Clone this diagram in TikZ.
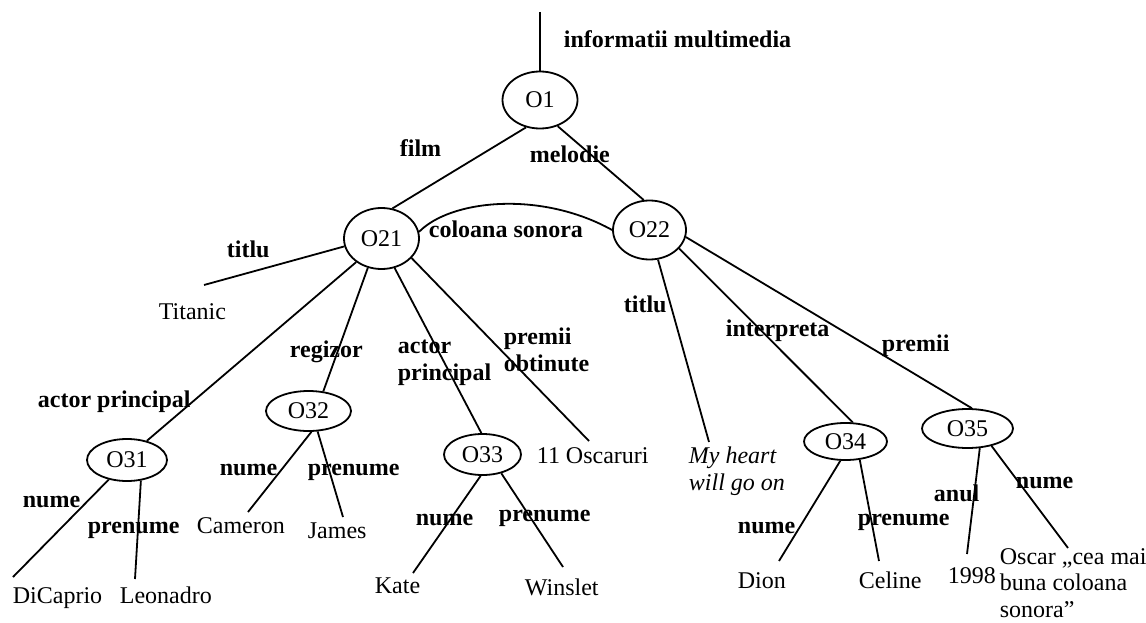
\documentclass[tikz,border=0pt]{standalone}
\usepackage{fontspec}
\setmainfont{Liberation Serif}
\usetikzlibrary{shapes.geometric, positioning}

\begin{document}
\begin{tikzpicture}[x=1pt, y=-1pt, line width=1.8pt,
    obj/.style={draw, ellipse, inner sep=0pt, font=\fontsize{24}{26.5}\selectfont},
    rel/.style={anchor=base west, inner sep=0pt, align=left, font=\fontsize{24}{26.5}\selectfont\bfseries},
    val/.style={anchor=base west, inner sep=0pt, align=left, font=\fontsize{24}{26.5}\selectfont}]
    \useasboundingbox (0,0) rectangle (1146,623);

    \node[obj, minimum width=75pt, minimum height=57pt] (o1) at (540,100) {O1};
    \node[obj, minimum width=75pt, minimum height=61pt] (o21) at (381.5,238.5) {O21};
    \node[obj, minimum width=73pt, minimum height=59pt] (o22) at (649.5,230) {O22};
    \node[obj, minimum width=80pt, minimum height=42pt] (o31) at (127,460) {O31};
    \node[obj, minimum width=85pt, minimum height=40pt] (o32) at (308.5,411) {O32};
    \node[obj, minimum width=77pt, minimum height=41pt] (o33) at (482.5,454.5) {O33};
    \node[obj, minimum width=83pt, minimum height=37pt] (o34) at (845.5,441.5) {O34};
    \node[obj, minimum width=91pt, minimum height=39pt] (o35) at (967.5,428.5) {O35};

    \node[val] (titanic) at (158,319) {Titanic};
    \node[val] (dicaprio) at (12,603) {DiCaprio};
    \node[val] (leonadro) at (119,603) {Leonadro};
    \node[val] (cameron) at (196,533) {Cameron};
    \node[val] (james) at (307,538) {James};
    \node[val] (kate) at (374,593) {Kate};
    \node[val] (winslet) at (524,595) {Winslet};
    \node[val] (oscaruri) at (536,463) {11 Oscaruri};
    \node[val, font=\fontsize{24}{26.5}\selectfont\itshape] (heart) at (688,490) {My heart\\will go on};
    \node[val] (dion) at (737,588) {Dion};
    \node[val] (celine) at (858,588) {Celine};
    \node[val] (anul) at (947,583) {1998};
    \node[val] (oscar) at (999,617) {Oscar „cea mai\\buna coloana\\sonora”};

    \coordinate (top) at (540,12);
    \coordinate (titanic-top) at (204,285);
    \coordinate (dicaprio-top) at (13,577);
    \coordinate (leonadro-top) at (135,579);
    \coordinate (cameron-top) at (248,512);
    \coordinate (james-top) at (343,517);
    \coordinate (kate-top) at (413,573);
    \coordinate (winslet-top) at (563,567);
    \coordinate (oscaruri-top) at (589,441);
    \coordinate (heart-top) at (709,442);
    \coordinate (dion-top) at (779,561);
    \coordinate (celine-top) at (879,561);
    \coordinate (anul-top) at (967,554);
    \coordinate (oscar-top) at (1068,548);

    \draw (top) -- (o1);
    \draw (o1.243) -- (o21.70);
    \draw (o1.304) -- (o22.101);
    \draw (o21.10) .. controls (450,200) and (540,190) .. (o22.180);
    \draw (o21.192) -- (titanic-top);
    \draw (o21.223) -- (o31.44);
    \draw (o21.245) -- (o32.53);
    \draw (o21.294) -- (o33.93);
    \draw (o21.327) -- (oscaruri-top);
    \draw (o22.286) -- (heart-top);
    \draw (o22.328) -- (o34.69);
    \draw (o22.349) -- (o35.78);
    \draw (o31.227) -- (dicaprio-top);
    \draw (o31.304) -- (leonadro-top);
    \draw (o32.278) -- (cameron-top);
    \draw (o32.294) -- (james-top);
    \draw (o33.265) -- (kate-top);
    \draw (o33.315) -- (winslet-top);
    \draw (o34.255) -- (dion-top);
    \draw (o34.308) -- (celine-top);
    \draw (o35.302) -- (anul-top);
    \draw (o35.324) -- (oscar-top);

    \node[rel] (l-info) at (563,48) {informatii multimedia};
    \node[rel] (l-film) at (399,157) {film};
    \node[rel] (l-melodie) at (529,163) {melodie};
    \node[rel] (l-coloana) at (428,237) {coloana sonora};
    \node[rel] (l-titlu1) at (226,257) {titlu};
    \node[rel] (l-regizor) at (289,357) {regizor};
    \node[rel] (l-actor1) at (37,407) {actor principal};
    \node[rel] (l-actor2) at (397,380) {actor\\principal};
    \node[rel] (l-premii1) at (503,371) {premii\\obtinute};
    \node[rel] (l-nume31) at (22,507) {nume};
    \node[rel] (l-prenume31) at (87,533) {prenume};
    \node[rel] (l-nume32) at (219,475) {nume};
    \node[rel] (l-prenume32) at (307,475) {prenume};
    \node[rel] (l-nume33) at (415,525) {nume};
    \node[rel] (l-prenume33) at (498,521) {prenume};
    \node[rel] (l-titlu2) at (623,312) {titlu};
    \node[rel] (l-interpreta) at (725,336) {interpreta};
    \node[rel] (l-premii2) at (881,351) {premii};
    \node[rel] (l-nume34) at (737,533) {nume};
    \node[rel] (l-prenume34) at (857,525) {prenume};
    \node[rel] (l-anul) at (933,501) {anul};
    \node[rel] (l-nume35) at (1015,488) {nume};
\end{tikzpicture}
\end{document}
